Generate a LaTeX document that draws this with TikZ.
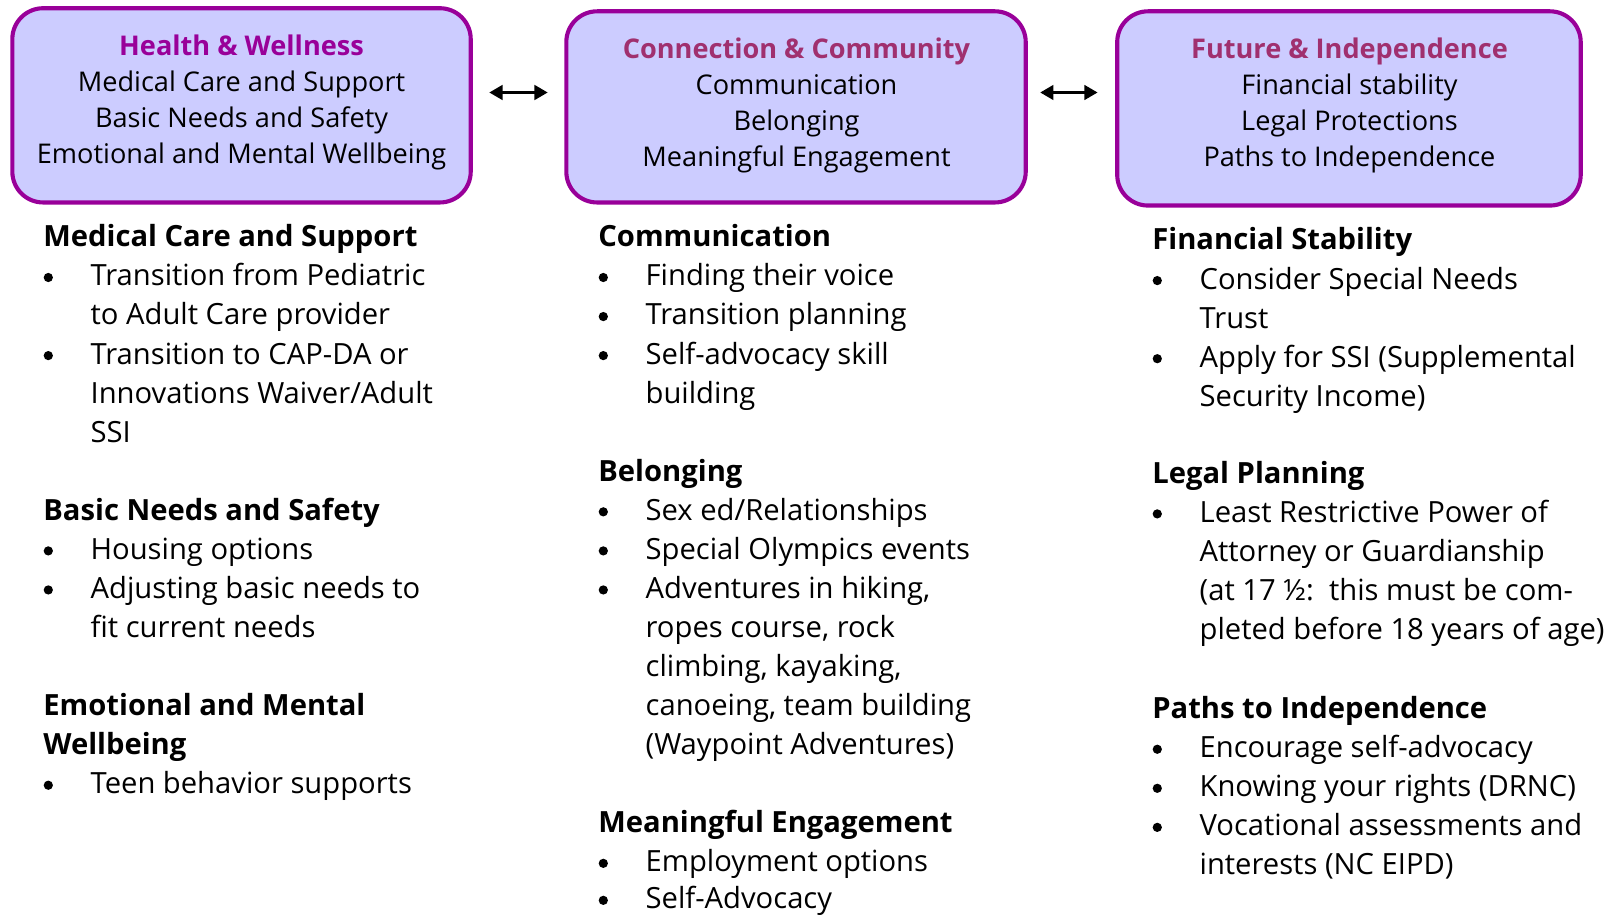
\documentclass[tikz,border=0pt]{standalone}
\usepackage{fontspec}
\setmainfont{Open Sans}
\usetikzlibrary{arrows.meta}
\definecolor{boxfill}{HTML}{CCCCFF}
\definecolor{boxline}{HTML}{990099}
\definecolor{titleA}{HTML}{990099}
\definecolor{titleB}{HTML}{A0306F}
\newcommand\colfont{\fontsize{28.4}{38}\selectfont}
\newcommand\boxfont{\fontsize{26.4}{35}\selectfont}
\tikzset{
  box/.style={draw=boxline, line width=4pt, fill=boxfill, rounded corners=30pt, inner sep=0pt},
  boxtext/.style={anchor=north, align=center, inner sep=0pt, font=\boxfont},
  head/.style={anchor=north west, align=left, inner sep=0pt, font=\colfont\bfseries},
  itemtext/.style={anchor=north west, align=left, inner sep=0pt, font=\colfont},
  bul/.style={circle, fill=black, inner sep=0pt, minimum size=9pt},
  link/.style={{Triangle[length=13pt,width=14pt]}-{Triangle[length=13pt,width=14pt]}, line width=3.5pt}
}
\begin{document}
\begin{tikzpicture}[x=1pt,y=-1pt]
\useasboundingbox (0,0) rectangle (1569.4,890.3);
% boxes
\node[box, minimum width=446pt, minimum height=189pt] (box1) at (235,102.5) {};
\node[box, minimum width=447pt, minimum height=186pt] (box2) at (774.5,104) {};
\node[box, minimum width=451pt, minimum height=189pt] (box3) at (1312.5,105.5) {};
\node[boxtext] (t1) at (235,29) {\strut{\color{titleA}\bfseries Health \& Wellness}\\Medical Care and Support\\Basic Needs and Safety\\Emotional and Mental Wellbeing};
\node[boxtext] (t2) at (775,32) {\strut{\color{titleB}\bfseries Connection \& Community}\\Communication\\Belonging\\Meaningful Engagement};
\node[boxtext] (t3) at (1313,32) {\strut{\color{titleB}\bfseries Future \& Independence}\\Financial stability\\Legal Protections\\Paths to Independence};
% arrows
\coordinate (a1l) at (476,90);
\coordinate (a1r) at (533,90);
\coordinate (a2l) at (1012,90);
\coordinate (a2r) at (1068,90);
\draw[link] (a1l) -- (a1r);
\draw[link] (a2l) -- (a2r);
% column 1
\node[head] (h11) at (42,213.4) {\strut Medical Care and Support};
\node[bul] (b11) at (47,270) {};
\node[itemtext] (i11) at (88,251.4) {\strut Transition from Pediatric\\to Adult Care provider};
\node[bul] (b12) at (47,346) {};
\node[itemtext] (i12) at (88,327.4) {\strut Transition to CAP-DA or\\Innovations Waiver/Adult\\SSI};
\node[head] (h12) at (42,479.4) {\strut Basic Needs and Safety};
\node[bul] (b13) at (47,536) {};
\node[itemtext] (i13) at (88,517.4) {\strut Housing options};
\node[bul] (b14) at (47,574) {};
\node[itemtext] (i14) at (88,555.4) {\strut Adjusting basic needs to\\fit current needs};
\node[head] (h13) at (42,669.4) {\strut Emotional and Mental\\Wellbeing};
\node[bul] (b15) at (47,764) {};
\node[itemtext] (i15) at (88,745.4) {\strut Teen behavior supports};
% column 2
\node[head] (h21) at (582,213.4) {\strut Communication};
\node[bul] (b21) at (587,270) {};
\node[itemtext] (i21) at (628,251.4) {\strut Finding their voice};
\node[bul] (b22) at (587,308) {};
\node[itemtext] (i22) at (628,289.4) {\strut Transition planning};
\node[bul] (b23) at (587,346) {};
\node[itemtext] (i23) at (628,327.4) {\strut Self-advocacy skill\\building};
\node[head] (h22) at (582,441.4) {\strut Belonging};
\node[bul] (b24) at (587,498) {};
\node[itemtext] (i24) at (628,479.4) {\strut Sex ed/Relationships};
\node[bul] (b25) at (587,536) {};
\node[itemtext] (i25) at (628,517.4) {\strut Special Olympics events};
\node[bul] (b26) at (587,574) {};
\node[itemtext] (i26) at (628,555.4) {\strut Adventures in hiking,\\ropes course, rock\\climbing, kayaking,\\canoeing, team building\\(Waypoint Adventures)};
\node[head] (h23) at (582,783.4) {\strut Meaningful Engagement};
\node[bul] (b27) at (587,840) {};
\node[itemtext] (i27) at (628,821.4) {\strut Employment options};
\node[bul] (b28) at (587,876) {};
\node[itemtext] (i28) at (628,857.4) {\strut Self-Advocacy};
% column 3
\node[head] (h31) at (1121,216.4) {\strut Financial Stability};
\node[bul] (b31) at (1126,273) {};
\node[itemtext] (i31) at (1167,254.4) {\strut Consider Special Needs\\Trust};
\node[bul] (b32) at (1126,349) {};
\node[itemtext] (i32) at (1167,330.4) {\strut Apply for SSI (Supplemental\\Security Income)};
\node[head] (h32) at (1121,443.4) {\strut Legal Planning};
\node[bul] (b33) at (1126,500) {};
\node[itemtext] (i33) at (1167,481.4) {\strut Least Restrictive Power of\\Attorney or Guardianship\\(at 17 ½:\ \ this must be com-\\pleted before 18 years of age)};
\node[head] (h33) at (1121,672.4) {\strut Paths to Independence};
\node[bul] (b34) at (1126,729) {};
\node[itemtext] (i34) at (1167,710.4) {\strut Encourage self-advocacy};
\node[bul] (b35) at (1126,767) {};
\node[itemtext] (i35) at (1167,748.4) {\strut Knowing your rights (DRNC)};
\node[bul] (b36) at (1126,805) {};
\node[itemtext] (i36) at (1167,786.4) {\strut Vocational assessments and\\interests (NC EIPD)};
\end{tikzpicture}
\end{document}
